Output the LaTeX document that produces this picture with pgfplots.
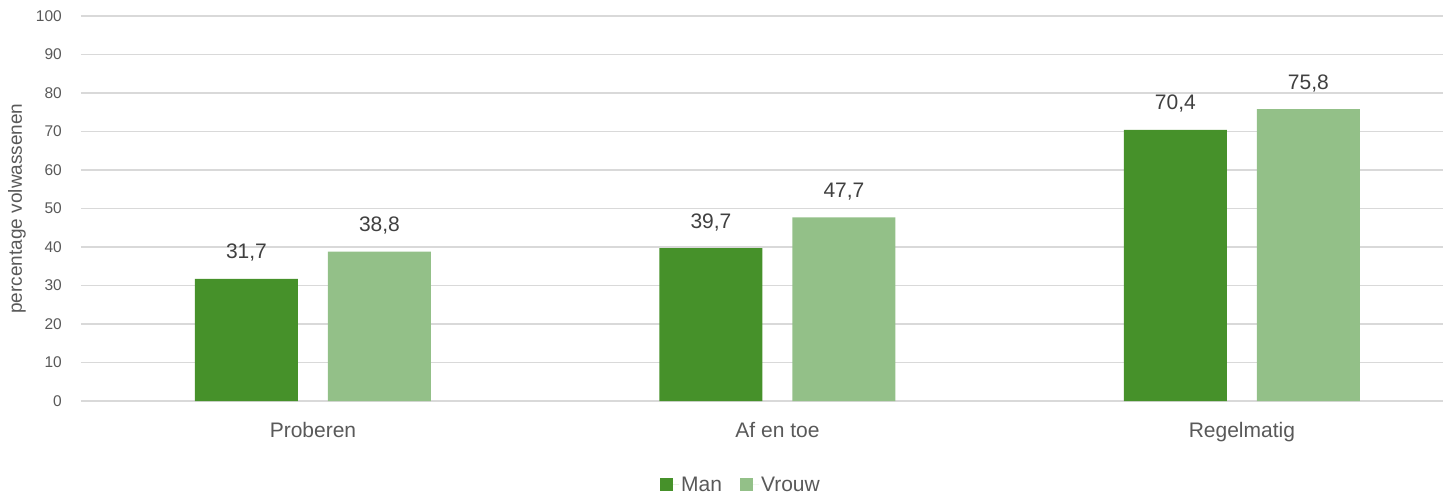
\documentclass[border=0pt]{standalone}
\usepackage{pgfplots}
\pgfplotsset{compat=1.18}
\usepackage{fontspec}
\setmainfont{Liberation Sans}
\definecolor{dgreen}{HTML}{46912A}
\definecolor{lgreen}{HTML}{93C088}
\definecolor{gridc}{HTML}{D9D9D9}
\definecolor{txt}{HTML}{595959}
\definecolor{lbl}{HTML}{404040}
\begin{document}
\begin{tikzpicture}
\useasboundingbox (-81pt,-97pt) rectangle (1372pt,401pt);
\begin{axis}[
  at={(0pt,0pt)}, anchor=south west,
  scale only axis,
  width=1362pt, height=385pt,
  xmin=-0.4995, xmax=2.433,
  ymin=0, ymax=100,
  ytick={0,10,...,100},
  xtick={0,1,2},
  xticklabels={Proberen,Af en toe,Regelmatig},
  axis line style={draw=none},
  major tick length=0pt,
  ymajorgrids,
  major grid style={draw=gridc, line width=1.3pt},
  /pgf/number format/assume math mode=true,
  yticklabel style={font=\fontsize{15.5}{18}\selectfont, text=txt, anchor=east, inner sep=0pt, xshift=-19pt},
  xticklabel style={font=\fontsize{21}{24}\selectfont, text=txt, anchor=base, inner sep=0pt, yshift=-36pt},
  ylabel={percentage volwassenen},
  y label style={at={(axis description cs:-0.047,0.5)}, anchor=center, font=\fontsize{19}{22}\selectfont, text=txt},
  ybar, bar width=103pt,
  nodes near coords,
  nodes near coords style={font=\fontsize{21}{24}\selectfont, text=lbl, anchor=base, inner sep=0pt, yshift=20pt,
    /pgf/number format/.cd, use comma, fixed, fixed zerofill, precision=1},
  legend columns=2,
  legend style={at={(axis description cs:0.4846,-0.218)}, anchor=center, draw=none, fill=none,
    font=\fontsize{21}{24}\selectfont, text=txt,
    /tikz/every even column/.append style={column sep=16pt}},
  legend image code/.code={\fill[#1] (0pt,-6.5pt) rectangle (13pt,6.5pt); \path (0pt,0pt) -- (19pt,0pt);},
]
\addplot[fill=dgreen, draw=none, bar shift=-66.5pt] coordinates {(0,31.7) (1,39.7) (2,70.4)};
\addlegendentry{Man}
\addplot[fill=lgreen, draw=none, bar shift=66.5pt] coordinates {(0,38.8) (1,47.7) (2,75.8)};
\addlegendentry{Vrouw}
\end{axis}
\end{tikzpicture}
\end{document}
